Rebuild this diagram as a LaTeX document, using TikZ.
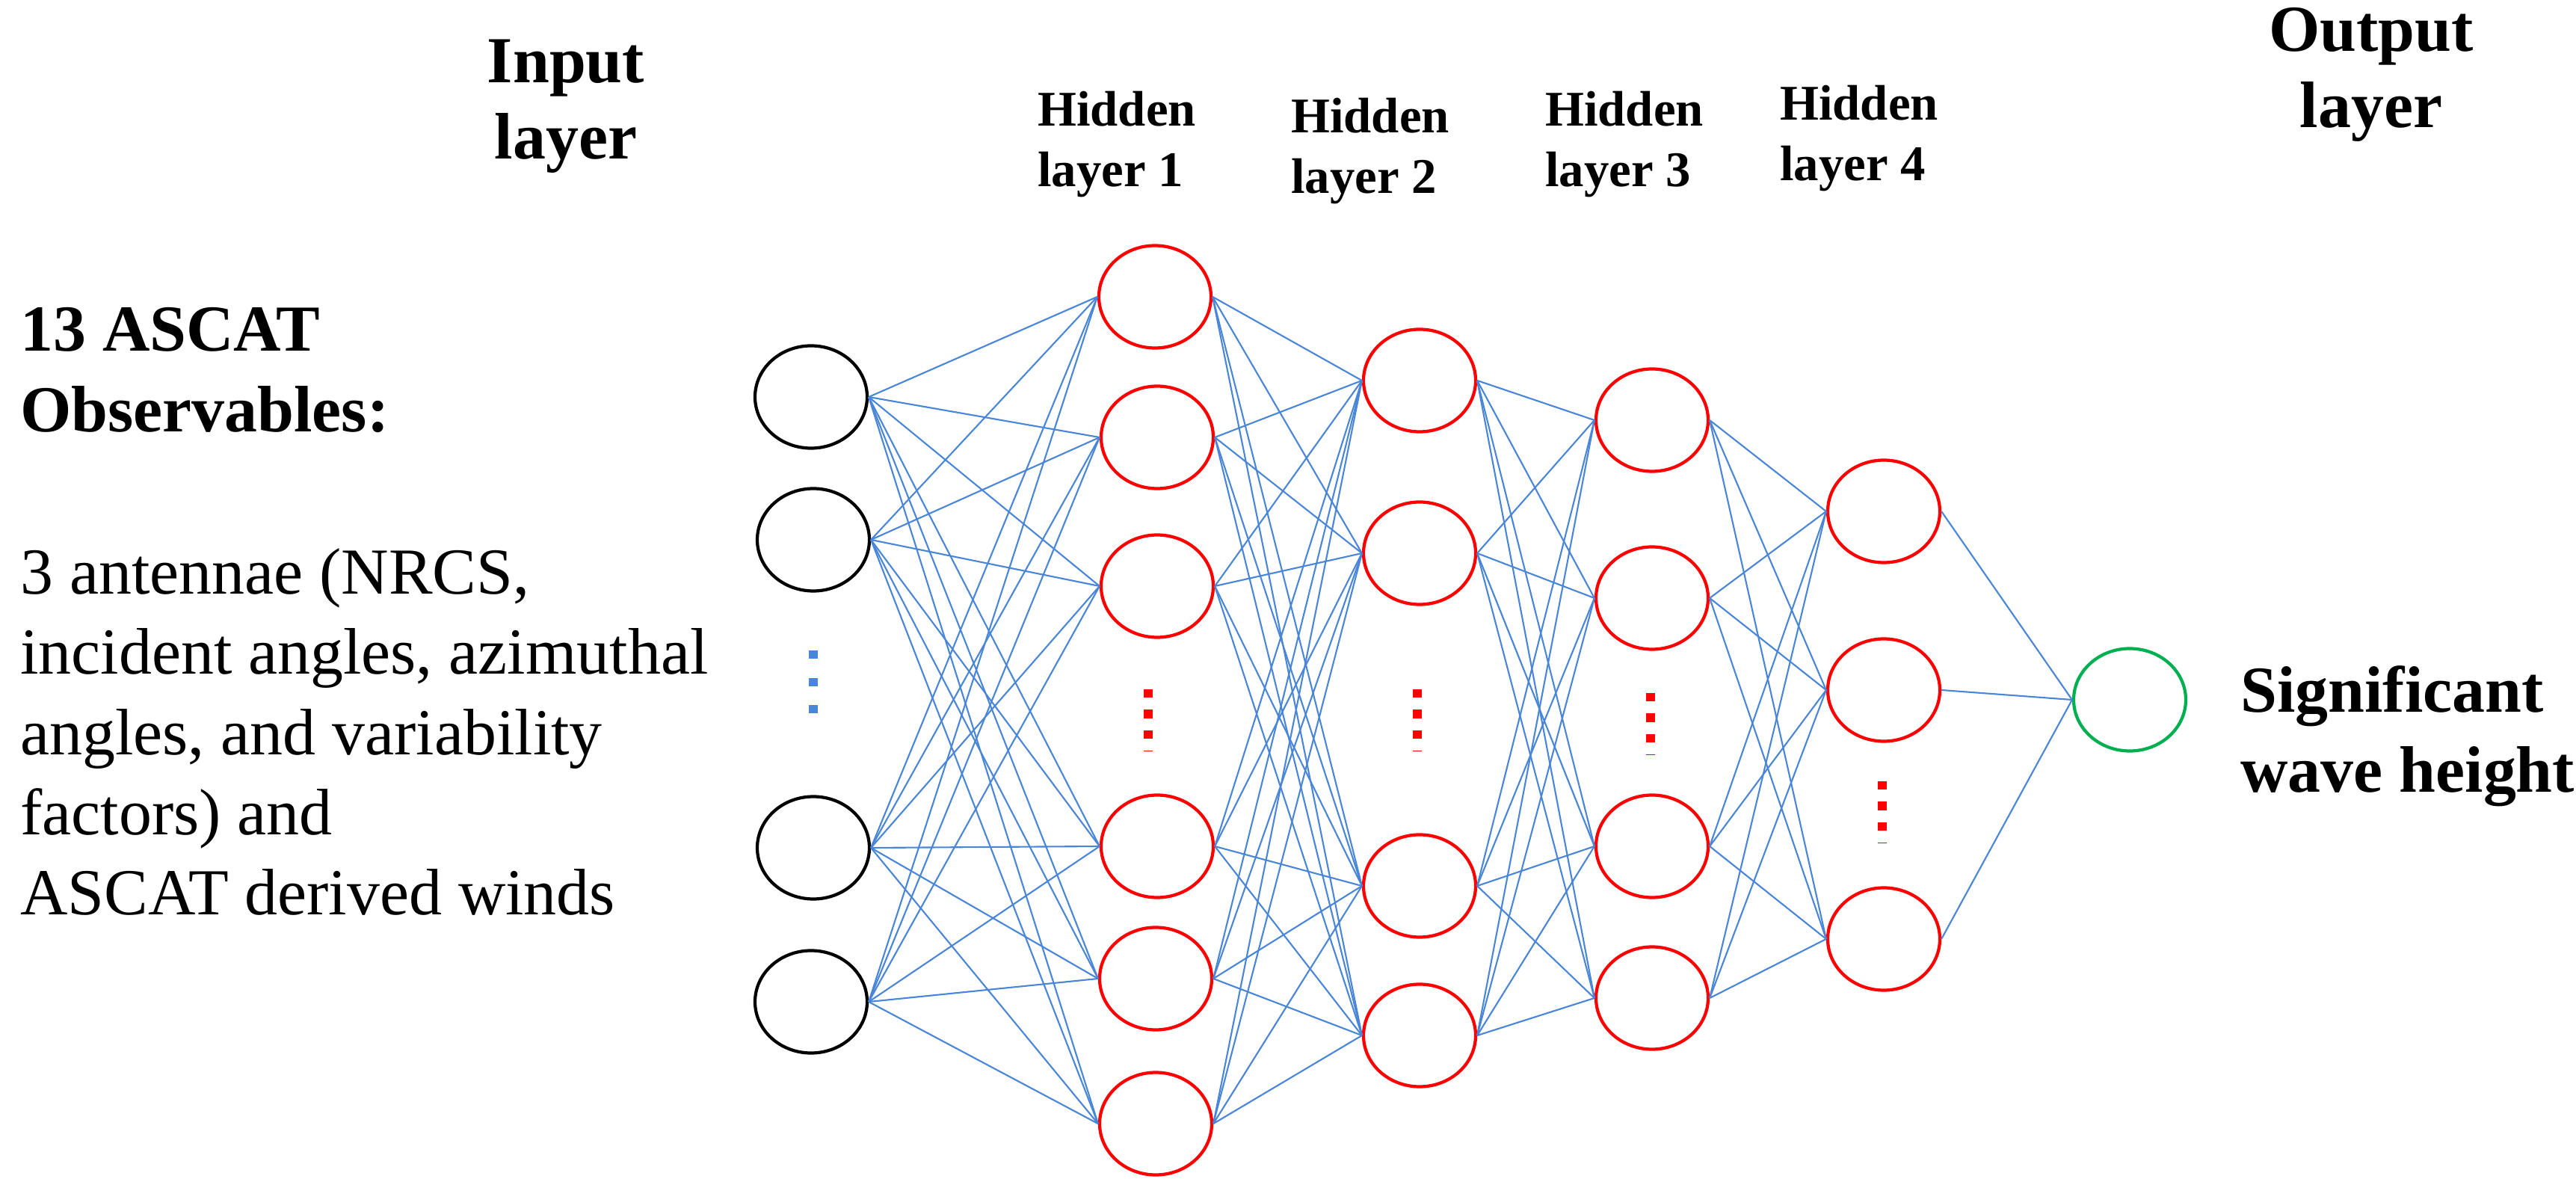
\documentclass[tikz,border=0pt]{standalone}
\usepackage{fontspec}
\setmainfont{LiberationSerif}[Extension=.ttf, UprightFont=*-Regular, BoldFont=*-Bold, ItalicFont=*-Italic, BoldItalicFont=*-BoldItalic]
\usetikzlibrary{shapes.geometric}
\definecolor{edgeblue}{RGB}{74,134,216}
\definecolor{outgreen}{RGB}{0,176,80}
\begin{document}
\begin{tikzpicture}[
                neuron/.style={
                    draw, ellipse, line width=1.2pt, minimum width=1.5cm, minimum height=1.37cm, inner sep=0pt
                },
                innode/.style={neuron, black},
                hidnode/.style={neuron, red},
                outnode/.style={neuron, outgreen},
                link/.style={edgeblue, line width=0.6pt},
                skip/.style={line width=3.2pt, dash pattern=on 3.2pt off 4.6pt},
                title/.style={font=\bfseries\fontsize{25}{29}\selectfont, align=center},
                subtitle/.style={font=\bfseries\fontsize{19}{23}\selectfont, align=left},
                body/.style={font=\fontsize{25}{30.5}\selectfont, align=left, anchor=west}
            ]
            \useasboundingbox (0,0) rectangle (34.46,-15.77);
            % input layer
            \node[innode] (i1) at (10.85, -5.31) {};
            \node[innode] (i2) at (10.88, -7.22) {};
            \node[innode] (i3) at (10.88, -11.34) {};
            \node[innode] (i4) at (10.85, -13.40) {};
            % hidden layers
            \node[hidnode] (a1) at (15.45, -3.97) {};
            \node[hidnode] (a2) at (15.48, -5.85) {};
            \node[hidnode] (a3) at (15.48, -7.84) {};
            \node[hidnode] (a4) at (15.48, -11.32) {};
            \node[hidnode] (a5) at (15.46, -13.09) {};
            \node[hidnode] (a6) at (15.46, -15.03) {};
            \node[hidnode] (b1) at (18.99, -5.09) {};
            \node[hidnode] (b2) at (18.99, -7.40) {};
            \node[hidnode] (b3) at (18.99, -11.85) {};
            \node[hidnode] (b4) at (18.99, -13.85) {};
            \node[hidnode] (c1) at (22.10, -5.62) {};
            \node[hidnode] (c2) at (22.10, -8.00) {};
            \node[hidnode] (c3) at (22.10, -11.32) {};
            \node[hidnode] (c4) at (22.10, -13.35) {};
            \node[hidnode] (d1) at (25.20, -6.84) {};
            \node[hidnode] (d2) at (25.20, -9.23) {};
            \node[hidnode] (d3) at (25.20, -12.56) {};
            % output layer
            \node[outnode] (o) at (28.49, -9.36) {};

            % connections
            \foreach \s in {i1,i2,i3,i4}
                \foreach \t in {a1,a2,a3,a4,a5,a6}
                    \draw[link] (\s.east) -- (\t.west);
            \foreach \s in {a1,a2,a3,a4,a5,a6}
                \foreach \t in {b1,b2,b3,b4}
                    \draw[link] (\s.east) -- (\t.west);
            \foreach \s in {b1,b2,b3,b4}
                \foreach \t in {c1,c2,c3,c4}
                    \draw[link] (\s.east) -- (\t.west);
            \foreach \s in {c1,c2,c3,c4}
                \foreach \t in {d1,d2,d3}
                    \draw[link] (\s.east) -- (\t.west);
            \foreach \s in {d1,d2,d3}
                \draw[link] (\s.east) -- (o.west);

            % skipped neurons
            \draw[skip, edgeblue, dash pattern=on 3.2pt off 7.2pt] (10.88, -8.70) -- (10.88, -9.55);
            \draw[skip, red] (15.36, -9.22) -- (15.36, -10.05);
            \draw[skip, red] (18.96, -9.22) -- (18.96, -10.05);
            \draw[skip, red] (22.08, -9.27) -- (22.08, -10.10);
            \draw[skip, red] (25.18, -10.45) -- (25.18, -11.28);

            % labels
            \node[title] (tin) at (7.57, -1.42) {Input\\layer};
            \node[subtitle] (ta) at (14.94, -1.93) {Hidden\\layer 1};
            \node[subtitle] (tb) at (18.33, -2.02) {Hidden\\layer 2};
            \node[subtitle] (tc) at (21.73, -1.93) {Hidden\\layer 3};
            \node[subtitle] (td) at (24.87, -1.85) {Hidden\\layer 4};
            \node[title] (tout) at (31.72, -1.00) {Output\\layer};
            \node[body, font=\bfseries\fontsize{25}{30.5}\selectfont] (obs) at (0.15, -4.95) {13 ASCAT\\Observables:};
            \node[body] (desc) at (0.15, -9.79) {3 antennae (NRCS,\\incident angles, azimuthal\\angles, and variability\\factors) and\\ASCAT derived winds};
            \node[body, font=\bfseries\fontsize{25}{30.5}\selectfont] (swh) at (29.85, -9.85) {Significant\\wave height};
            \end{tikzpicture}
\end{document}
